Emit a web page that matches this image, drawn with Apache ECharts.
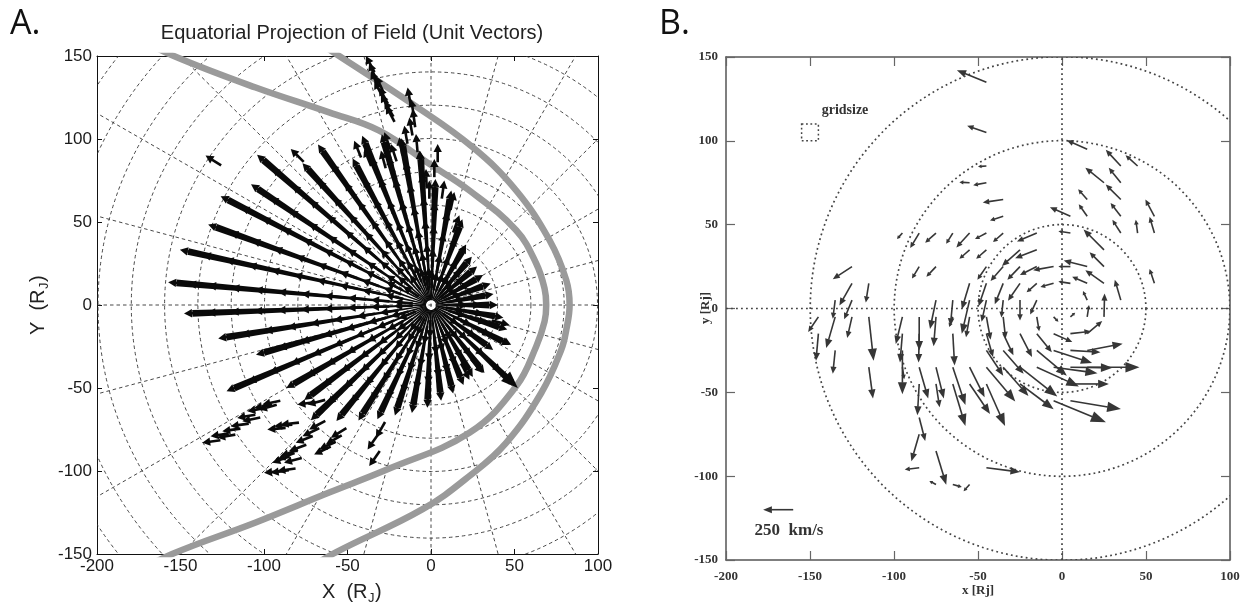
<!DOCTYPE html>
<html>
<head>
<meta charset="utf-8">
<script src="https://cdn.jsdelivr.net/npm/echarts/dist/echarts.min.js"></script>
<style>
html,body{margin:0;padding:0;background:#fff;}
#c{width:1250px;height:607px;}
</style>
</head>
<body>
<div id="c"></div>
<script>
// ---------- Panel A: equatorial projection of field directions ----------
const gridRadiiA = [20, 40, 60, 80, 100, 120, 140, 160, 180, 200, 220, 240];
const gridAnglesA = [15, 30, 45, 60, 75, 105, 120, 135, 150, 165, 195, 210, 225, 240, 255, 285, 300, 315, 330, 345];
const axisCrossA = [[-200, 0, 100, 0], [0, -150, 0, 150]];

// inner and outer boundary traces (x, y in R_J)
const innerBoundary = [[-180, 163], [-154, 150], [-105, 131], [-61, 116], [-31, 105], [-1, 85], [23, 69], [51, 45], [63, 25], [68, 10], [69, 0], [68, -10], [63, -25], [51, -49], [23, -77], [-26, -99], [-61, -113], [-105, -131], [-155, -150], [-180, -163]];
const outerBoundary = [[-75, 163], [-55, 150], [-11, 121], [25, 95], [51, 69], [71, 39], [81, 15], [83, 0], [81, -15], [78, -27], [66, -53], [45, -83], [23, -103], [-5, -123], [-57, -149], [-75, -160]];

// radial bundles of field vectors: direction (deg), outer reach (R_J), arrowhead radii
const spokeAngle = [0, 10, 20, 30, 40, 50, 60, 70, 80, 88, 94, 100, 106, 112, 118, 125, 132, 139, 146, 152.5, 160, 167.5, 175, 182, 189, 196, 203, 210, 217, 224, 231, 238, 245, 252, 260, 268, 276, 284, 292, 300, 308, 316, 324, 333, 342, 350];
const spokeReach = [40, 38, 38, 36, 36, 38, 42, 55, 70, 76, 93, 102, 107, 110, 100, 118, 115, 138, 130, 142, 142, 154, 158, 148, 129, 109, 133, 100, 95, 100, 90, 82, 76, 70, 66, 62, 58, 55, 52, 50, 52, 72, 46, 53, 48, 44];
const spokeHeads = [
  [40, 30, 22], [38, 29, 21], [38, 28, 20], [36, 27, 19], [36, 26, 18], [38, 28, 20], [42, 31, 21],
  [55, 43, 31, 20], [70, 57, 44, 31, 20], [76, 62, 48, 34, 21], [93, 79, 65, 51, 37, 23],
  [102, 88, 74, 60, 46, 32, 20], [107, 93, 79, 65, 51, 37, 23], [110, 96, 82, 68, 54, 40, 26],
  [100, 86, 72, 58, 44, 30], [118, 104, 90, 76, 62, 48, 34, 22], [115, 101, 87, 73, 59, 45, 31],
  [138, 126, 110, 96, 82, 68, 54, 40, 26], [130, 116, 102, 88, 74, 60, 46, 32, 20],
  [142, 128, 114, 100, 86, 72, 58, 44, 30], [142, 128, 114, 100, 86, 72, 58, 44, 30],
  [154, 140, 126, 112, 98, 84, 70, 56, 42, 28], [158, 146, 134, 120, 106, 92, 78, 64, 50, 36, 22],
  [148, 134, 120, 106, 92, 78, 64, 50, 36, 22], [129, 115, 101, 87, 73, 59, 45, 31],
  [109, 95, 81, 67, 53, 39, 25], [133, 119, 105, 91, 77, 63, 49, 35, 21], [100, 86, 72, 58, 44, 30],
  [95, 81, 67, 53, 39, 25], [100, 86, 72, 58, 44, 30], [90, 76, 62, 48, 34, 20], [82, 68, 54, 40, 26],
  [76, 62, 48, 34, 20], [70, 56, 42, 28], [66, 52, 38, 24], [62, 48, 34, 20], [58, 44, 30],
  [55, 42, 29], [52, 39, 26], [50, 37, 24], [52, 39, 26], [58, 44, 30], [46, 33, 20],
  [53, 40, 27], [48, 35, 22], [44, 32, 20]
];
// separate vectors: tip x, tip y, direction (deg)
const looseVectors = [
  [-135, 90, 148], [-84, 94, 135], [-39, 150, 118], [-37, 146, 112], [-36, 141, 115], [-34, 135, 118], [-33, 138, 115],
  [-31, 131, 118], [-30, 127, 118], [-28, 123, 120], [-27, 120, 118],
  [-14, 131, 100], [-12, 124, 100], [-11, 118, 98], [-13, 113, 100], [-16, 108, 100], [4, 97, 90], [-7, 93, 95],
  [-9, 103, 95], [-19, 101, 100], [-28, 104, 110], [-46, 99, 112], [-40, 94, 112], [-24, 97, 108],
  [-30, 93, 105], [2, 88, 90], [-3, 82, 92], [8, 75, 82], [14, 68, 78], [17, 54, 70], [21, 36, 60], [-1, 75, 90],
  [48, -24, -27], [47, -12, -14], [23, -45, -63], [31, -41, -50],
  [-37, -97, 235], [-38, -87, 235], [-33, -80, 240],
  [-137, -83, 188], [-132, -79, 188], [-128, -80, 190], [-125, -76, 188], [-120, -73, 188], [-116, -68, 190],
  [-113, -70, 192], [-110, -64, 190], [-106, -62, 190], [-103, -63, 195], [-101, -60, 192], [-98, -75, 185],
  [-94, -73, 185], [-90, -72, 186], [-80, -60, 188], [-74, -60, 195],
  [-95, -95, 200], [-92, -93, 200], [-90, -91, 200], [-88, -95, 195], [-85, -88, 200], [-81, -83, 202],
  [-77, -79, 205], [-73, -75, 208], [-100, -101, 185], [-96, -101, 188], [-92, -100, 188],
  [-70, -90, 205], [-67, -87, 205], [-63, -84, 210], [-60, -80, 212]
];
const bigVectors = [[52, -50, -44]];

// ---------- Panel B: flow vectors ----------
const flowRings = [50, 100, 150];
const axisCrossB = [[-200, 0, 100, 0], [0, -150, 0, 150]];
const gridCell = [-155, 100, 10]; // x, y, size (R_J)
const refVector = [-160, -120, -250, 0];
const refSpeed = 250;      // km/s
const refLength = 17.9;    // R_J drawn for refSpeed
// x, y (R_J), vx, vy (km/s)
const flowVectors = [
  [-45, 135, -245, 100], [-45, 105, -160, 55], [15, 95, -170, 75], [-45, 85, -70, -5], [35, 85, -125, 135],
  [45, 85, -100, 90], [-55, 75, -85, 5], [-45, 75, -110, -20], [25, 75, -155, 125], [35, 75, -100, 125],
  [-35, 65, -170, -25], [15, 65, -75, 85], [35, 65, -125, 125], [-35, 55, -110, -35], [5, 55, -170, 75],
  [15, 55, -70, 100], [35, 55, -85, 110], [55, 55, -75, 140],
  [-95, 45, -45, -50], [-85, 45, -75, -125], [-75, 45, -90, -80], [-65, 45, -55, -90], [-55, 45, -110, -120],
  [-45, 45, -95, -50], [-35, 45, -85, -75], [-15, 45, -165, -70], [5, 45, -100, 15], [35, 45, -70, 110],
  [45, 45, -15, 110], [55, 45, -40, 135],
  [-55, 35, -85, -75], [-45, 35, -85, -75], [-25, 35, -150, -135], [-15, 35, -180, -70], [25, 35, -170, 170],
  [-125, 25, -160, -105], [-85, 25, -60, -100], [-75, 25, -80, -85], [-45, 25, -75, -110], [-35, 25, -105, -120],
  [-25, 25, -105, -110], [-15, 25, -140, -70], [-5, 25, -170, -30], [5, 25, -100, 0], [15, 25, -195, 50], [25, 25, -120, 120],
  [-125, 15, -105, -185], [-115, 15, -25, -160], [-55, 15, -65, -215], [-45, 15, -65, -190], [-35, 15, -70, -175],
  [-25, 15, -100, -145], [-15, 15, -85, -75], [-5, 15, -110, -30], [5, 15, -100, 15], [15, 15, -125, 55],
  [25, 15, -155, 110], [55, 15, -40, 120],
  [-135, 5, -20, -155], [-125, 5, -65, -160], [-75, 5, -50, -240], [-65, 5, -20, -215], [-55, 5, -65, -280],
  [-45, 5, -40, -180], [-35, 5, -15, -145], [-25, 5, 0, -170], [-15, 5, -55, -120], [15, 5, -35, 75], [35, 5, -50, 170],
  [-145, -5, -85, -125], [-135, -5, -75, -260], [-125, -5, -40, -175], [-115, -5, 40, -365], [-95, -5, -55, -225],
  [-85, -5, 0, -280], [-75, -5, -20, -245], [-65, -5, -30, -85], [-55, -5, -30, -170], [-45, -5, 35, -190],
  [-35, -5, 20, -180], [-15, -5, 20, -120], [-5, -5, 40, -40], [5, -5, 40, 35], [15, -5, 15, 100], [25, -5, 5, 195],
  [-145, -15, -20, -225], [-95, -15, -20, -240], [-85, -15, -5, -240], [-65, -15, 15, -265], [-45, -15, 55, -195],
  [-35, -15, 85, -180], [-25, -15, 100, -195], [-15, -15, 125, -155], [-5, -15, 155, -70], [5, -15, 170, 20], [15, -15, 125, 105],
  [-135, -25, -20, -195], [-95, -25, 0, -365], [-45, -25, 140, -210], [-35, -25, 170, -195], [-15, -25, 250, -210],
  [-5, -25, 320, -105], [5, -25, 250, -15], [15, -25, 295, 55],
  [-115, -35, 35, -260], [-95, -35, 15, -100], [-85, -35, 75, -260], [-75, -35, 65, -260], [-65, -35, 105, -315],
  [-55, -35, 125, -250], [-45, -35, 240, -285], [-35, -35, 210, -240], [-25, -35, 310, -245], [-15, -35, 350, -160],
  [-5, -35, 365, -50], [5, -35, 350, -5], [15, -35, 435, 0],
  [-85, -45, -15, -260], [-75, -45, 30, -195], [-65, -45, 105, -350], [-55, -45, 170, -250], [-45, -45, 155, -350],
  [-25, -45, 280, -210], [5, -45, 320, 0],
  [-5, -55, 435, -180], [5, -55, 420, -70], [-85, -65, 50, -195], [-85, -75, -65, -225], [-75, -85, 85, -280],
  [-85, -95, -120, -15], [-45, -95, 280, -35], [-75, -105, -55, 30], [-65, -105, 75, -20], [-55, -105, -50, -55]
];

// ---------- drawing helpers ----------
const D2R = Math.PI / 180;

function arrowGroup(p0, p1, headLen, headHalf, color, lw) {
  const dx = p1[0] - p0[0], dy = p1[1] - p0[1];
  const len = Math.hypot(dx, dy) || 1;
  const ux = dx / len, uy = dy / len;
  const hl = Math.min(headLen, len * 0.9);
  const bx = p1[0] - ux * hl, by = p1[1] - uy * hl;
  return {
    type: 'group',
    children: [
      { type: 'line', shape: { x1: p0[0], y1: p0[1], x2: bx + ux * 0.5, y2: by + uy * 0.5 }, style: { stroke: color, lineWidth: lw } },
      { type: 'polygon', shape: { points: [[p1[0], p1[1]], [bx - uy * headHalf, by + ux * headHalf], [bx + uy * headHalf, by - ux * headHalf]] }, style: { fill: color } }
    ]
  };
}

// unit-vector arrows for panel A, built from spoke heads and separate vectors
const UNIT_LEN = 11;
const fieldArrows = [];
spokeAngle.forEach((a, i) => {
  spokeHeads[i].forEach(r => {
    fieldArrows.push([r * Math.cos(a * D2R), r * Math.sin(a * D2R), a, 0]);
  });
});
looseVectors.forEach(v => fieldArrows.push([v[0], v[1], v[2], 0]));
bigVectors.forEach(v => fieldArrows.push([v[0], v[1], v[2], 1]));

const fontA = 'Liberation Sans, Arial, sans-serif';
const fontB = 'Liberation Serif, Times New Roman, serif';

const axA = (pos, labels) => ({
  gridIndex: 0, type: 'value', min: pos === 'left' || pos === 'right' ? -150 : -200,
  max: pos === 'left' || pos === 'right' ? 150 : 100, interval: 50, position: pos,
  axisLine: { show: true, onZero: false, lineStyle: { color: '#111', width: 1 } },
  axisTick: { show: true, inside: true, length: 5, lineStyle: { color: '#111', width: 1 } },
  axisLabel: { show: labels, color: '#1a1a1a', fontSize: 17, fontFamily: fontA, margin: pos === 'bottom' ? 4 : 5 },
  splitLine: { show: false }
});
const axB = (pos, labels) => ({
  gridIndex: 1, type: 'value', min: pos === 'left' || pos === 'right' ? -150 : -200,
  max: pos === 'left' || pos === 'right' ? 150 : 100, interval: 50, position: pos,
  axisLine: { show: true, onZero: false, lineStyle: { color: '#555', width: 1.5 } },
  axisTick: { show: true, inside: true, length: 9, lineStyle: { color: '#666', width: 1.2 } },
  axisLabel: { show: labels, color: '#333', fontSize: 13, fontWeight: 'bold', fontFamily: fontB, margin: pos === 'bottom' ? 10 : 8 },
  splitLine: { show: false }
});

const chart = echarts.init(document.getElementById('c'));
chart.setOption({
  animation: false,
  backgroundColor: '#fff',
  grid: [
    { left: 97, top: 56, width: 501, height: 498 },
    { left: 726, top: 57, width: 504, height: 503 }
  ],
  xAxis: [axA('bottom', true), axA('top', false), axB('bottom', true), axB('top', false)],
  yAxis: [axA('left', true), axA('right', false), axB('left', true), axB('right', false)],
  graphic: [
    { type: 'text', left: 10, top: 7, style: { text: 'A.', font: '34px "Open Sans", sans-serif', fill: '#111' } },
    { type: 'text', left: 659, top: 7, style: { text: 'B.', font: '34px "Open Sans", sans-serif', fill: '#111' } },
    { type: 'text', x: 352, y: 33, style: { text: 'Equatorial Projection of Field (Unit Vectors)', font: '20px ' + fontA, fill: '#222', align: 'center', verticalAlign: 'middle' } },
    { type: 'text', x: 322, y: 592, style: { text: 'X  (R', font: '20px ' + fontA, fill: '#222', align: 'left', verticalAlign: 'middle' } },
    { type: 'text', x: 368, y: 598, style: { text: 'J', font: '13px ' + fontA, fill: '#222', align: 'left', verticalAlign: 'middle' } },
    { type: 'text', x: 375, y: 592, style: { text: ')', font: '20px ' + fontA, fill: '#222', align: 'left', verticalAlign: 'middle' } },
    {
      type: 'group', x: 38, y: 305, rotation: Math.PI / 2,
      children: [
        { type: 'text', x: -30, y: 0, style: { text: 'Y  (R', font: '20px ' + fontA, fill: '#222', align: 'left', verticalAlign: 'middle' } },
        { type: 'text', x: 16, y: 6, style: { text: 'J', font: '13px ' + fontA, fill: '#222', align: 'left', verticalAlign: 'middle' } },
        { type: 'text', x: 23, y: 0, style: { text: ')', font: '20px ' + fontA, fill: '#222', align: 'left', verticalAlign: 'middle' } }
      ]
    },
    { type: 'text', x: 845, y: 110, style: { text: 'gridsize', font: 'bold 14px ' + fontB, fill: '#333', align: 'center', verticalAlign: 'middle' } },
    { type: 'text', x: 789, y: 531, style: { text: '250  km/s', font: 'bold 17px ' + fontB, fill: '#333', align: 'center', verticalAlign: 'middle' } },
    { type: 'text', x: 978, y: 591, style: { text: 'x [Rj]', font: 'bold 13px ' + fontB, fill: '#333', align: 'center', verticalAlign: 'middle' } },
    { type: 'text', x: 706, y: 308, rotation: Math.PI / 2, style: { text: 'y [Rj]', font: 'bold 13px ' + fontB, fill: '#333', align: 'center', verticalAlign: 'middle' } }
  ],
  series: [
    // panel A grid circles
    {
      type: 'custom', xAxisIndex: 0, yAxisIndex: 0, clip: true, silent: true, z: 1,
      data: gridRadiiA.map(r => [r]),
      renderItem: (p, api) => {
        const c = api.coord([0, 0]); const s = api.size([api.value(0), api.value(0)]);
        return { type: 'circle', shape: { cx: c[0], cy: c[1], r: (s[0] + s[1]) / 2 }, style: { fill: 'none', stroke: '#333', lineWidth: 0.9, lineDash: [3.5, 3] } };
      }
    },
    // panel A grid radials
    {
      type: 'custom', xAxisIndex: 0, yAxisIndex: 0, clip: true, silent: true, z: 1,
      data: gridAnglesA.map(a => [a]),
      renderItem: (p, api) => {
        const a = api.value(0) * D2R;
        const p0 = api.coord([20 * Math.cos(a), 20 * Math.sin(a)]);
        const p1 = api.coord([320 * Math.cos(a), 320 * Math.sin(a)]);
        return { type: 'line', shape: { x1: p0[0], y1: p0[1], x2: p1[0], y2: p1[1] }, style: { stroke: '#333', lineWidth: 0.9, lineDash: [3.5, 3] } };
      }
    },
    {
      type: 'custom', xAxisIndex: 0, yAxisIndex: 0, clip: true, silent: true, z: 1,
      data: axisCrossA,
      renderItem: (p, api) => {
        const p0 = api.coord([api.value(0), api.value(1)]); const p1 = api.coord([api.value(2), api.value(3)]);
        return { type: 'line', shape: { x1: p0[0], y1: p0[1], x2: p1[0], y2: p1[1] }, style: { stroke: '#333', lineWidth: 0.9, lineDash: [3.5, 3] } };
      }
    },
    // boundaries
    {
      type: 'line', xAxisIndex: 0, yAxisIndex: 0, data: innerBoundary, smooth: 0.4, symbol: 'none', clip: true, z: 2,
      lineStyle: { color: '#9a9a9a', width: 6.5 }, silent: true
    },
    {
      type: 'line', xAxisIndex: 0, yAxisIndex: 0, data: outerBoundary, smooth: 0.4, symbol: 'none', clip: true, z: 2,
      lineStyle: { color: '#9a9a9a', width: 6.5 }, silent: true
    },
    // spoke bands (tapered, widening outward)
    {
      type: 'custom', xAxisIndex: 0, yAxisIndex: 0, clip: true, silent: true, z: 3,
      data: spokeAngle.map((a, i) => [a, spokeReach[i]]),
      renderItem: (p, api) => {
        const a = api.value(0) * D2R, r1 = api.value(1) - 5;
        const p0 = api.coord([3 * Math.cos(a), 3 * Math.sin(a)]);
        const p1 = api.coord([r1 * Math.cos(a), r1 * Math.sin(a)]);
        const dx = p1[0] - p0[0], dy = p1[1] - p0[1], L = Math.hypot(dx, dy) || 1;
        const nx = -dy / L, ny = dx / L, w0 = 0.6, w1 = 3.4;
        return {
          type: 'polygon',
          shape: { points: [[p0[0] + nx * w0, p0[1] + ny * w0], [p1[0] + nx * w1, p1[1] + ny * w1], [p1[0] - nx * w1, p1[1] - ny * w1], [p0[0] - nx * w0, p0[1] - ny * w0]] },
          style: { fill: '#0a0a0a' }
        };
      }
    },
    // unit vectors
    {
      type: 'custom', xAxisIndex: 0, yAxisIndex: 0, clip: true, silent: true, z: 4,
      data: fieldArrows,
      renderItem: (p, api) => {
        const x = api.value(0), y = api.value(1), d = api.value(2) * D2R, big = api.value(3);
        const L = big ? 22 : UNIT_LEN;
        const tip = api.coord([x, y]);
        const tail = api.coord([x - L * Math.cos(d), y - L * Math.sin(d)]);
        return big ? arrowGroup(tail, tip, 17, 6.5, '#0a0a0a', 3.5) : arrowGroup(tail, tip, 8, 4.2, '#0a0a0a', 2.6);
      }
    },
    // panel B rings
    {
      type: 'custom', xAxisIndex: 2, yAxisIndex: 2, clip: true, silent: true, z: 1,
      data: flowRings.map(r => [r]),
      renderItem: (p, api) => {
        const c = api.coord([0, 0]); const s = api.size([api.value(0), api.value(0)]);
        return { type: 'circle', shape: { cx: c[0], cy: c[1], r: (s[0] + s[1]) / 2 }, style: { fill: 'none', stroke: '#444', lineWidth: 1.7, lineDash: [1.8, 3.2] } };
      }
    },
    {
      type: 'custom', xAxisIndex: 2, yAxisIndex: 2, clip: true, silent: true, z: 1,
      data: axisCrossB,
      renderItem: (p, api) => {
        const p0 = api.coord([api.value(0), api.value(1)]); const p1 = api.coord([api.value(2), api.value(3)]);
        return { type: 'line', shape: { x1: p0[0], y1: p0[1], x2: p1[0], y2: p1[1] }, style: { stroke: '#444', lineWidth: 1.7, lineDash: [1.8, 3.2] } };
      }
    },
    {
      type: 'custom', xAxisIndex: 2, yAxisIndex: 2, clip: true, silent: true, z: 1,
      data: [gridCell],
      renderItem: (p, api) => {
        const s = api.value(2);
        const tl = api.coord([api.value(0), api.value(1) + s]); const sz = api.size([s, s]);
        return { type: 'rect', shape: { x: tl[0], y: tl[1], width: sz[0], height: sz[1] }, style: { fill: 'none', stroke: '#444', lineWidth: 1.5, lineDash: [1.8, 2.6] } };
      }
    },
    // flow vectors and scale arrow
    {
      type: 'custom', xAxisIndex: 2, yAxisIndex: 2, clip: true, silent: true, z: 3,
      data: flowVectors.concat([refVector]),
      renderItem: (p, api) => {
        const k = refLength / refSpeed;
        const x = api.value(0), y = api.value(1);
        const tail = api.coord([x, y]);
        const tip = api.coord([x + api.value(2) * k, y + api.value(3) * k]);
        const len = Math.hypot(tip[0] - tail[0], tip[1] - tail[1]);
        return arrowGroup(tail, tip, 0.24 * len + 1.5, 0.075 * len + 1.3, '#363636', 1.6);
      }
    }
  ]
});
</script>
</body>
</html>
